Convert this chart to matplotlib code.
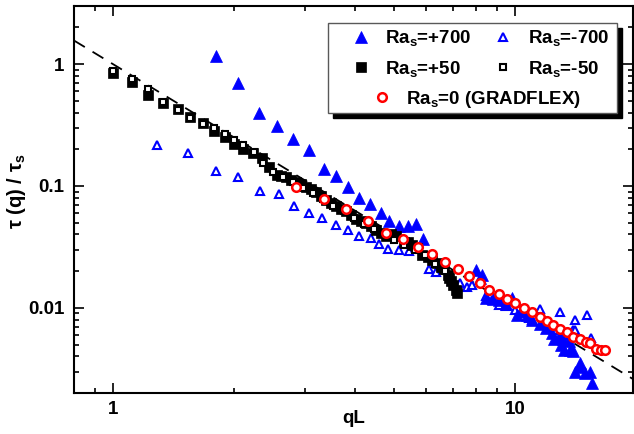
import matplotlib
matplotlib.use("Agg")
import matplotlib.pyplot as plt
from matplotlib.patches import Rectangle
from matplotlib.ticker import NullFormatter, FixedLocator, LogLocator
import numpy as np

plt.rcParams['font.family'] = 'Liberation Sans'
plt.rcParams['font.weight'] = 'bold'
plt.rcParams['mathtext.fontset'] = 'custom'
plt.rcParams['mathtext.rm'] = 'Liberation Sans:bold'
plt.rcParams['mathtext.bf'] = 'Liberation Sans:bold'
plt.rcParams['mathtext.default'] = 'bf'

# Ra_s = +700 (filled blue triangles)
q_p700 = [1.80, 2.05, 2.31, 2.56, 2.80, 3.07, 3.35, 3.58, 3.83, 4.09, 4.36, 4.63, 4.86,
          5.15, 5.40, 5.66, 5.90, 7.99, 8.15, 8.27, 8.44, 8.80, 9.10, 9.50, 9.80, 10.1,
          10.3, 10.7, 11.0, 11.5, 11.9, 12.3, 12.5, 12.8, 13.0, 13.1, 13.2, 13.6, 13.7,
          13.9, 14.1, 14.4, 14.5, 14.9, 15.3, 15.5]
t_p700 = [1.16, 0.70, 0.394, 0.31, 0.244, 0.197, 0.137, 0.121, 0.0975, 0.079, 0.071, 0.060, 0.052,
          0.047, 0.047, 0.049, 0.037, 0.0205, 0.0176, 0.0187, 0.0120, 0.0118, 0.0117, 0.0108, 0.012, 0.0087,
          0.0094, 0.0088, 0.0080, 0.0074, 0.0068, 0.0062, 0.0056, 0.0058, 0.0050, 0.0055, 0.0045, 0.0053, 0.0045,
          0.0044, 0.0030, 0.0033, 0.0035, 0.0029, 0.0030, 0.0024]

# Ra_s = -700 (open blue triangles)
q_m700 = [1.29, 1.54, 1.80, 2.04, 2.32, 2.58, 2.82, 3.07, 3.31, 3.58, 3.83, 4.09, 4.38,
          4.59, 4.82, 5.15, 5.45, 6.10, 6.35, 6.97, 7.30, 7.60, 7.82, 8.44, 8.77, 9.10,
          9.50, 10.0, 10.4, 10.8, 11.0, 11.5, 12.0, 12.5, 12.9, 13.2, 13.9, 14.1, 14.1,
          15.1, 15.4]
t_m700 = [0.217, 0.188, 0.133, 0.118, 0.091, 0.086, 0.0686, 0.0596, 0.0546, 0.048, 0.0437, 0.0385, 0.0373,
          0.0335, 0.0304, 0.030, 0.029, 0.021, 0.0197, 0.0165, 0.016, 0.0149, 0.0155, 0.0124, 0.0117, 0.0106,
          0.0103, 0.0096, 0.0091, 0.0082, 0.0080, 0.0098, 0.0072, 0.0066, 0.0093, 0.0060, 0.0066, 0.0080, 0.0066,
          0.0087, 0.0057]

# Ra_s = +50 (filled black squares)
q_p50 = [1.0, 1.113, 1.224, 1.334, 1.454, 1.557, 1.675, 1.784, 1.896, 2.0, 2.11, 2.23, 2.35,
         2.44, 2.56, 2.62, 2.69, 2.77, 2.85, 2.93, 3.02, 3.10, 3.2, 3.29, 3.38, 3.48, 3.58,
         3.68, 3.79, 3.90, 4.02, 4.14, 4.26, 4.38, 4.5, 4.63, 4.77, 4.90, 5.05, 5.28, 5.40,
         5.54, 5.70, 5.87, 6.05, 6.22, 6.40, 6.53, 6.65, 6.79, 6.85, 6.93, 7.0, 7.1, 7.15]
t_p50 = [0.84, 0.716, 0.557, 0.476, 0.428, 0.37, 0.326, 0.284, 0.25, 0.221, 0.201, 0.188, 0.169,
         0.144, 0.123, 0.120, 0.118, 0.112, 0.107, 0.103, 0.099, 0.095, 0.09, 0.083, 0.077, 0.072, 0.068,
         0.065, 0.062, 0.058, 0.054, 0.052, 0.05, 0.047, 0.0437, 0.041, 0.0385, 0.040, 0.0385, 0.035, 0.035,
         0.033, 0.031, 0.027, 0.026, 0.0249, 0.0235, 0.0217, 0.021, 0.0187, 0.0175, 0.0165, 0.0155, 0.0141, 0.0132]

# Ra_s = -50 (open black squares)
q_m50 = [1.0, 1.113, 1.224, 1.334, 1.454, 1.557, 1.675, 1.784, 1.9, 2.0, 2.11, 2.24, 2.36,
         2.5, 2.64, 2.8, 2.96, 3.14, 3.33, 3.53, 3.74, 3.96, 4.2, 4.45, 4.72, 5.0, 5.3, 5.62,
         5.96, 6.3, 6.7]
t_m50 = [0.88, 0.75, 0.62, 0.49, 0.42, 0.36, 0.32, 0.297, 0.267, 0.238, 0.217, 0.19, 0.154,
         0.13, 0.118, 0.107, 0.097, 0.088, 0.078, 0.068, 0.062, 0.055, 0.049, 0.044, 0.040, 0.036, 0.033, 0.030,
         0.027, 0.023, 0.020]

# Ra_s = 0 (GRADFLEX, open red circles)
q_grad = [2.85, 3.35, 3.80, 4.31, 4.77, 5.27, 5.72, 6.20, 6.68, 7.19, 7.65, 8.15, 8.60, 9.10,
          9.54, 10.0, 10.5, 11.0, 11.5, 12.0, 12.4, 12.9, 13.4, 13.9, 14.5, 15.0, 15.3, 15.9,
          16.3, 16.7]
t_grad = [0.0975, 0.0785, 0.0645, 0.0512, 0.041, 0.0367, 0.0318, 0.0277, 0.0239, 0.0209, 0.0183, 0.0159, 0.0139, 0.0129,
          0.0119, 0.0109, 0.0099, 0.0092, 0.0084, 0.0078, 0.0072, 0.0067, 0.0063, 0.0058, 0.0055, 0.0052, 0.0051, 0.0046,
          0.0045, 0.0045]

# q^-2 guide line
guide_q = [0.8, 20.0]
guide_t = [1.5625, 0.0025]

fig = plt.figure(figsize=(6.34, 4.34), dpi=100)
ax = fig.add_axes([74 / 634, 41 / 434, 559 / 634, 387 / 434])

ax.plot(guide_q, guide_t, color='black', lw=1.3, linestyle=(0, (7, 5)), zorder=1)

h_m700, = ax.plot(q_m700, t_m700, linestyle='none', marker='^', ms=6.3, mfc='white',
                  mec='blue', mew=1.5, label='Ra$_s$=-700', zorder=2)
h_p700, = ax.plot(q_p700, t_p700, linestyle='none', marker='^', ms=8, mfc='blue',
                  mec='blue', mew=0.5, label='Ra$_s$=+700', zorder=3)
h_p50, = ax.plot(q_p50, t_p50, linestyle='none', marker='s', ms=6.8, mfc='black',
                 mec='black', mew=0.5, label='Ra$_s$=+50', zorder=4)
h_m50, = ax.plot(q_m50, t_m50, linestyle='none', marker='s', ms=5, mfc='white',
                 mec='black', mew=1.5, label='Ra$_s$=-50', zorder=4)
h_grad, = ax.plot(q_grad, t_grad, linestyle='none', marker='o', ms=6.2, mfc='white',
                  mec='red', mew=1.8, label='Ra$_s$=0 (GRADFLEX)', zorder=5)

ax.set_xscale('log')
ax.set_yscale('log')
ax.set_xlim(0.8, 19.6)
ax.set_ylim(0.002, 3)

ax.xaxis.set_major_locator(FixedLocator([1, 10]))
ax.set_xticklabels(['1', '10'])
ax.xaxis.set_minor_locator(LogLocator(base=10, subs=np.arange(2, 10)))
ax.xaxis.set_minor_formatter(NullFormatter())
ax.yaxis.set_major_locator(FixedLocator([0.01, 0.1, 1]))
ax.set_yticklabels(['0.01', '0.1', '1'])
ax.yaxis.set_minor_locator(LogLocator(base=10, subs=np.arange(2, 10)))
ax.yaxis.set_minor_formatter(NullFormatter())

ax.tick_params(which='both', direction='in', top=True, right=True, width=1.2)
ax.tick_params(which='major', length=7, labelsize=13.5, pad=7)
ax.tick_params(axis='x', which='major', pad=6)
ax.tick_params(which='minor', length=3.5)
for sp in ax.spines.values():
    sp.set_linewidth(1.5)

ax.set_xlabel('qL', fontsize=13.5, fontweight='bold')
ax.xaxis.set_label_coords(0.5, -0.045)
ax.set_ylabel('τ (q) / τ$_s$', fontsize=14.5, fontweight='bold')
ax.yaxis.set_label_coords(-0.083, 0.522)

# legend frame with shadow
fx, fy, fw, fh = 0.454, 0.7235, 0.517, 0.2325
ax.add_patch(Rectangle((fx + 0.009, fy - 0.013), fw, fh, transform=ax.transAxes,
                       facecolor='black', edgecolor='black', zorder=8))
ax.add_patch(Rectangle((fx, fy), fw, fh, transform=ax.transAxes,
                       facecolor='white', edgecolor='0.35', lw=1.0, zorder=9))

prop = {'size': 13.5, 'weight': 'bold'}
leg1 = ax.legend(handles=[h_p700, h_p50, h_m700, h_m50], ncol=2, loc='upper left',
                 bbox_to_anchor=(0.483, 0.962), frameon=False, prop=prop,
                 handlelength=1.0, handletextpad=0.8, columnspacing=1.2,
                 labelspacing=0.55, borderaxespad=0)
leg1.set_zorder(10)
ax.add_artist(leg1)
leg2 = ax.legend(handles=[h_grad], loc='upper left', bbox_to_anchor=(0.52, 0.805),
                 frameon=False, prop=prop, handlelength=1.0, handletextpad=0.8,
                 borderaxespad=0)
leg2.set_zorder(10)

fig.savefig('out.png', dpi=100)
